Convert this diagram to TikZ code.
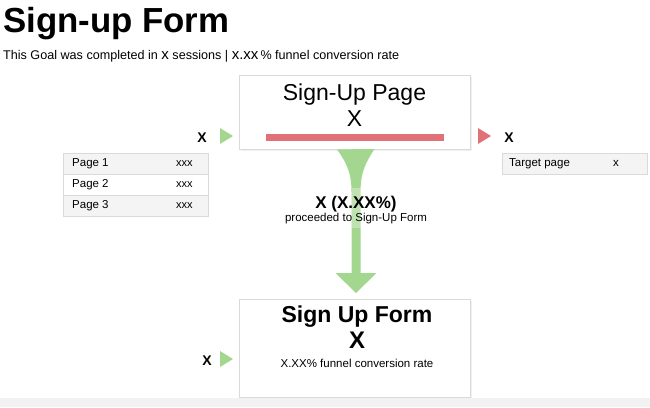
\documentclass[tikz,border=0pt]{standalone}
\usepackage{fontspec}
\setmainfont{Liberation Sans}
\definecolor{fgreen}{RGB}{163,214,143}
\definecolor{fred}{RGB}{224,113,119}
\definecolor{boxline}{RGB}{218,218,218}
\definecolor{rowgray}{RGB}{244,244,244}
\definecolor{stripgray}{RGB}{242,242,242}
\tikzset{
  fs/.style={font=\fontsize{#1}{#1}\selectfont},
  fsb/.style={font=\fontsize{#1}{#1}\selectfont\bfseries},
  panel/.style={draw=boxline, fill=white, line width=0.8pt, inner sep=0pt},
  rowbox/.style={draw=boxline, line width=0.6pt, inner sep=0pt, minimum height=21pt},
  txt/.style={inner sep=0pt},
}
\begin{document}
\begin{tikzpicture}[x=1pt,y=-1pt]
\useasboundingbox (0,0) rectangle (650,407);
\fill[stripgray] (0,398) rectangle (650,407);

% title
\node[txt, fsb=34.8, anchor=base west] (title) at (3,32) {Sign-up Form};
\node[txt, fs=12.6, anchor=base west] (sub) at (3,59) {This Goal was completed in {\fontsize{15}{15}\selectfont x} sessions | {\fontsize{15}{15}\selectfont x.xx}\,\% funnel conversion rate};

% top panel
\fill[black!6] (240.5,76.5) rectangle (471.5,150.5);
\node[panel, minimum width=231pt, minimum height=74pt] (top) at (354.5,112) {};
\node[txt, fs=23, anchor=base] (toptitle) at (354.5,100) {Sign-Up Page};
\node[txt, fs=23, anchor=base] (topx) at (354.5,126) {X};
\node[fill=fred, inner sep=0pt, minimum width=178pt, minimum height=7pt] (bar) at (355,137.5) {};

% left entry
\node[txt, fsb=14, anchor=base] (lx) at (202,142) {X};
\fill[fgreen] (220,128) -- (233,136) -- (220,144) -- cycle;
% right exit
\fill[fred] (478,128) -- (491,136) -- (478,144) -- cycle;
\node[txt, fsb=14, anchor=base] (rx) at (509,142) {X};

% left table
\node[rowbox, fill=rowgray, minimum width=145pt, anchor=north west] (r1) at (63,153) {};
\node[rowbox, fill=white, minimum width=145pt, anchor=north west] (r2) at (63,174) {};
\node[rowbox, fill=rowgray, minimum width=145pt, anchor=north west] (r3) at (63,195) {};
\foreach \r/\t in {r1/Page 1, r2/Page 2, r3/Page 3}{
  \node[txt, fs=11.5, anchor=west] at ([xshift=9pt]\r.west) {\t};
  \node[txt, fs=11, anchor=west] at ([xshift=113pt]\r.west) {xxx};
}

% right table
\node[rowbox, fill=rowgray, minimum width=145pt, anchor=north west] (t1) at (502,153) {};
\node[txt, fs=11.5, anchor=west] (tp) at ([xshift=7pt]t1.west) {Target page};
\node[txt, fs=11.5, anchor=west] (tv) at ([xshift=111pt]t1.west) {x};

% bottom panel
\fill[black!6] (240.5,300.5) rectangle (471.5,398.5);
\node[panel, minimum width=231pt, minimum height=98pt] (bot) at (354.5,348) {};
\node[txt, fsb=23, anchor=base] (bt) at (357,322) {Sign Up Form};
\node[txt, fsb=24, anchor=base] (bx) at (357,348) {X};
\node[txt, fs=11.5, anchor=base] (bs) at (357,367) {X.XX\% funnel conversion rate};
\node[txt, fsb=14, anchor=base] (blx) at (207,365) {X};
\fill[fgreen] (220,351) -- (233,359) -- (220,367) -- cycle;

% funnel
\fill[fgreen] (top.south -| 337,0) .. controls (346,162) and (351.5,172) .. (351.5,192)
  -- (351.5,273) -- (335.5,273) -- (356,293) -- (376.5,273) -- (360.5,273) -- (360.5,192)
  .. controls (360.5,172) and (366,162) .. (374.5,149) -- cycle;
\fill[white, opacity=0.3] (351.5,188) rectangle (360.5,228);
\node[txt, fsb=17, anchor=base] (pct) at (356,208) {X (X.XX\%)};
\node[txt, fs=11.5, anchor=base] (proc) at (356,221.5) {proceeded to Sign-Up Form};
\end{tikzpicture}
\end{document}
